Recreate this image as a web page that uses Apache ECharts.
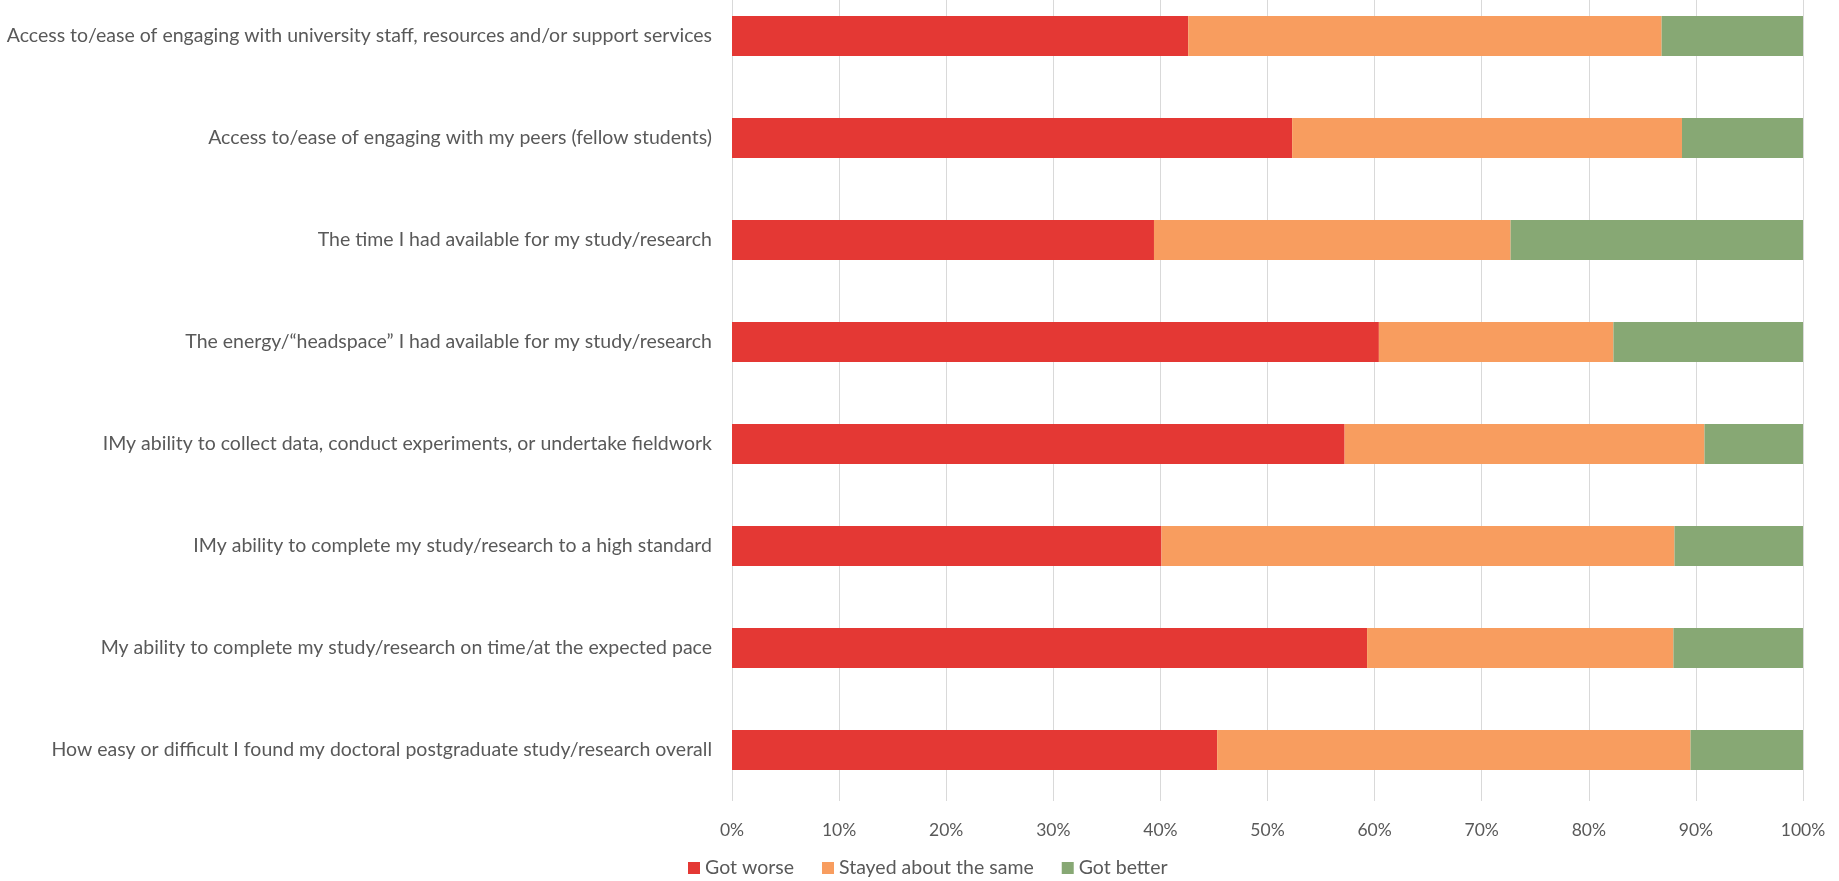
<!DOCTYPE html>
<html>
<head>
<meta charset="utf-8">
<script src="https://cdn.jsdelivr.net/npm/echarts@6/dist/echarts.min.js"></script>
<style>
  html, body { margin: 0; padding: 0; background: #ffffff; }
  #chart { width: 1839px; height: 881px; }
</style>
</head>
<body>
<div id="chart"></div>
<script>
// Survey items, listed top to bottom
const categories = [
  'Access to/ease of engaging with university staff, resources and/or support services',
  'Access to/ease of engaging with my peers (fellow students)',
  'The time I had available for my study/research',
  'The energy/\u201cheadspace\u201d I had available for my study/research',
  'IMy ability to collect data, conduct experiments, or undertake fieldwork',
  'IMy ability to complete my study/research to a high standard',
  'My ability to complete my study/research on time/at the expected pace',
  'How easy or difficult I found my doctoral postgraduate study/research overall'
];

// Share of respondents (%) per answer
const gotWorse    = [42.6, 52.3, 39.4, 60.4, 57.2, 40.1, 59.3, 45.3];
const stayedSame  = [44.2, 36.4, 33.3, 21.9, 33.6, 47.9, 28.6, 44.2];
const gotBetter   = [13.2, 11.3, 27.3, 17.7,  9.2, 12.0, 12.1, 10.5];

const seriesNames = ['Got worse', 'Stayed about the same', 'Got better'];
const tickLabels = ['0%', '10%', '20%', '30%', '40%', '50%', '60%', '70%', '80%', '90%', '100%'];

const colors = ['#E43834', '#F89D5F', '#87A874'];
const textColor = '#595959';
const fontFamily = 'Lato, "Open Sans", sans-serif';

const chart = echarts.init(document.getElementById('chart'), null, { renderer: 'canvas' });

const values = [gotWorse, stayedSame, gotBetter];

chart.setOption({
  animation: false,
  color: colors,
  textStyle: { fontFamily: fontFamily, color: textColor },
  grid: { left: 732, right: 36, top: -15, height: 816, outerBoundsMode: 'none' },
  legend: {
    bottom: -2,
    left: 683,
    icon: 'rect',
    itemWidth: 12,
    itemHeight: 12,
    itemGap: 28,
    textStyle: { fontSize: 19.5, color: textColor, fontFamily: fontFamily },
    data: seriesNames
  },
  xAxis: {
    type: 'value',
    min: 0,
    max: 100,
    interval: 10,
    axisLine: { show: false },
    axisTick: { show: false },
    splitLine: { show: true, lineStyle: { color: '#D9D9D9', width: 1 } },
    axisLabel: {
      margin: 20,
      fontSize: 17.5,
      color: textColor,
      formatter: function (v) { return tickLabels[Math.round(v / 10)]; }
    }
  },
  yAxis: {
    type: 'category',
    inverse: true,
    data: categories,
    axisLine: { show: false },
    axisTick: { show: false },
    axisLabel: { margin: 20, fontSize: 19.5, color: textColor }
  },
  series: seriesNames.map(function (name, i) {
    return {
      name: name,
      type: 'bar',
      stack: 'total',
      barWidth: 40,
      data: values[i],
      itemStyle: { color: colors[i] }
    };
  })
});
</script>
</body>
</html>
